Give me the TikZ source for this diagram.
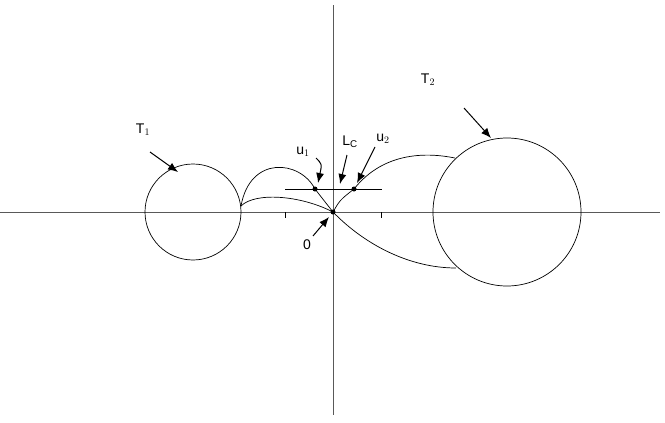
\documentclass[tikz,border=0pt]{standalone}
\usepackage{fontspec}
\setmainfont{Liberation Sans}
\usetikzlibrary{arrows.meta}
\begin{document}
\begin{tikzpicture}[x=1pt,y=-1pt,line width=0.7pt,
  lbl/.style={font=\fontsize{14}{14}\selectfont,inner sep=1pt},
  dotn/.style={circle,fill=black,inner sep=0pt,minimum size=5pt},
  pt/.style={-{Latex[length=10pt,width=8pt]},line width=1pt}]
\useasboundingbox (0,0) rectangle (665,423);
\draw[gray!70!black] (0,212) -- (660,212);
\draw[gray!70!black] (333,5) -- (333,415);
\draw (285,212) -- (285,218) (381,212) -- (381,218);
\draw (285,189) -- (382,189);
\node[draw,circle,minimum size=96pt,inner sep=0pt] (t1) at (193,212) {};
\node[draw,circle,minimum size=148pt,inner sep=0pt] (t2) at (507,212) {};
\node[dotn] (o) at (333,212) {};
\node[dotn] (u1) at (315,189) {};
\node[dotn] (u2) at (354,189) {};
\coordinate (a) at (241,206);
\coordinate (b) at (455,158);
\coordinate (c) at (456,268);
\draw (a) .. controls (250,155) and (300,160) .. (u1.center) .. controls (322,198) .. (o.center);
\draw (a) .. controls (255,192) and (300,195) .. (o.center);
\draw (o.center) .. controls (340,200) .. (u2.center) .. controls (385,150) and (430,153) .. (b);
\draw (o.center) .. controls (365,245) and (410,268) .. (c);
\node[lbl] (lt1) at (143,130) {T$_1$};
\node[lbl] (lt2) at (428,80) {T$_2$};
\node[lbl] (llc) at (350,142) {L$_\mathrm{C}$};
\node[lbl] (lu1) at (303,152) {u$_1$};
\node[lbl] (lu2) at (383,139) {u$_2$};
\node[lbl] (l0) at (307,245) {0};
\draw[pt] (150,152) -- (178,172);
\draw[pt] (464,108) -- (491,138);
\draw[pt] (347,155) -- (340,184);
\draw[pt] (316,158) .. controls (322,164) .. (318,183);
\draw[pt] (375,147) -- (357,183);
\draw[pt] (313,236) -- (329,217);
\end{tikzpicture}
\end{document}
